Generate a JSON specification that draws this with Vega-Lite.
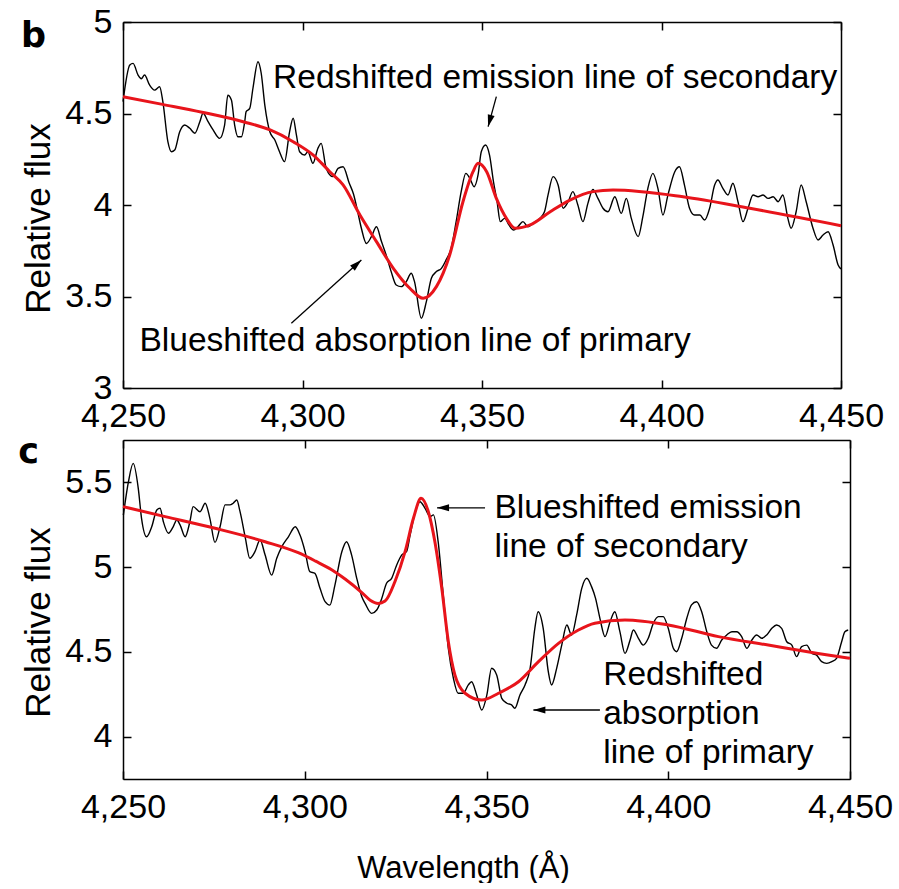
{
  "$schema": "https://vega.github.io/schema/vega-lite/v6.json",
  "background": "white",
  "padding": {"left": 18, "top": 5, "right": 4, "bottom": 0},
  "spacing": 52,
  "bounds": "flush",
  "config": {
    "font": "Liberation Sans",
    "view": {"stroke": null},
    "axis": {
      "grid": false,
      "domainColor": "black", "domainWidth": 1.5,
      "tickColor": "black", "tickWidth": 1.5, "tickSize": -8,
      "labelFont": "Liberation Sans", "labelFontSize": 34, "labelColor": "black",
      "labelPadding": 19, "labelFlush": false, "labelOverlap": false,
      "titleFont": "Liberation Sans", "titleFontWeight": "normal", "titleColor": "black"
    }
  },
  "datasets": {
    "b_obs": [
      {"w":4250,"f":4.565},{"w":4251.9,"f":4.765},{"w":4252.8,"f":4.774},{"w":4254.2,"f":4.71},{"w":4255.1,"f":4.69},{"w":4256,"f":4.71},{"w":4257.4,"f":4.656},{"w":4258.8,"f":4.628},{"w":4260.2,"f":4.646},{"w":4261.1,"f":4.565},{"w":4262.5,"f":4.346},{"w":4263.5,"f":4.291},{"w":4264.4,"f":4.30},{"w":4265.8,"f":4.40},{"w":4267.2,"f":4.437},{"w":4268.6,"f":4.419},{"w":4270,"f":4.392},{"w":4271.4,"f":4.455},{"w":4272.3,"f":4.501},{"w":4273.7,"f":4.455},{"w":4275.1,"f":4.41},{"w":4276.9,"f":4.364},{"w":4278.3,"f":4.437},{"w":4279.2,"f":4.60},{"w":4280.2,"f":4.574},{"w":4281.1,"f":4.437},{"w":4282,"f":4.373},{"w":4283,"f":4.373},{"w":4283.9,"f":4.455},{"w":4284.3,"f":4.51},{"w":4285.3,"f":4.528},{"w":4286.2,"f":4.638},{"w":4287.6,"f":4.783},{"w":4288.5,"f":4.72},{"w":4289.5,"f":4.546},{"w":4290.9,"f":4.40},{"w":4292.3,"f":4.355},{"w":4293.6,"f":4.291},{"w":4295,"f":4.237},{"w":4296.4,"f":4.40},{"w":4297.4,"f":4.474},{"w":4298.3,"f":4.383},{"w":4299.2,"f":4.291},{"w":4300.6,"f":4.273},{"w":4301.5,"f":4.291},{"w":4302.9,"f":4.228},{"w":4304.3,"f":4.31},{"w":4305.2,"f":4.337},{"w":4306.6,"f":4.20},{"w":4308.5,"f":4.155},{"w":4309.9,"f":4.20},{"w":4311.3,"f":4.209},{"w":4313,"f":4.12},{"w":4314.2,"f":4.06},{"w":4315.3,"f":3.97},{"w":4316.4,"f":3.873},{"w":4317.8,"f":3.79},{"w":4319.2,"f":3.827},{"w":4320.6,"f":3.881},{"w":4322,"f":3.80},{"w":4323.3,"f":3.727},{"w":4324.7,"f":3.636},{"w":4326.1,"f":3.563},{"w":4327.5,"f":3.554},{"w":4328.9,"f":3.581},{"w":4330.3,"f":3.627},{"w":4331.2,"f":3.581},{"w":4333.1,"f":3.381},{"w":4334.5,"f":3.472},{"w":4335.9,"f":3.60},{"w":4337.3,"f":3.636},{"w":4338.7,"f":3.654},{"w":4340,"f":3.70},{"w":4341.4,"f":3.763},{"w":4342.8,"f":3.909},{"w":4344.2,"f":4.073},{"w":4345.5,"f":4.173},{"w":4346.6,"f":4.146},{"w":4347.8,"f":4.10},{"w":4348.9,"f":4.164},{"w":4349.8,"f":4.291},{"w":4351,"f":4.328},{"w":4352.1,"f":4.273},{"w":4353.2,"f":4.127},{"w":4354.2,"f":4.018},{"w":4355.1,"f":3.909},{"w":4356.3,"f":3.927},{"w":4357.5,"f":3.891},{"w":4358.8,"f":3.863},{"w":4360,"f":3.881},{"w":4361.4,"f":3.909},{"w":4362.8,"f":3.881},{"w":4364.2,"f":3.90},{"w":4366.1,"f":3.927},{"w":4367.4,"f":3.963},{"w":4368.4,"f":4.055},{"w":4369.8,"f":4.155},{"w":4371.2,"f":4.109},{"w":4372.6,"f":3.982},{"w":4374,"f":4.018},{"w":4375.3,"f":4.073},{"w":4376.7,"f":4.0},{"w":4378.1,"f":3.909},{"w":4379.5,"f":4.009},{"w":4380.9,"f":4.085},{"w":4382.3,"f":4.036},{"w":4383.7,"f":3.982},{"w":4385.1,"f":3.963},{"w":4387,"f":4.045},{"w":4388.8,"f":3.954},{"w":4390.2,"f":4.036},{"w":4391.6,"f":3.927},{"w":4393.5,"f":3.827},{"w":4394.8,"f":3.936},{"w":4396.2,"f":4.091},{"w":4397.6,"f":4.173},{"w":4399,"f":4.091},{"w":4400.4,"f":3.945},{"w":4401.8,"f":4.055},{"w":4403.7,"f":4.182},{"w":4405,"f":4.209},{"w":4406.4,"f":4.109},{"w":4407.8,"f":3.982},{"w":4409.2,"f":3.945},{"w":4410.7,"f":3.945},{"w":4412,"f":3.918},{"w":4413.4,"f":3.982},{"w":4414.8,"f":4.109},{"w":4415.7,"f":4.137},{"w":4417.1,"f":4.091},{"w":4418.5,"f":4.055},{"w":4419.9,"f":4.119},{"w":4421.3,"f":4.018},{"w":4422.7,"f":3.909},{"w":4424.1,"f":3.982},{"w":4425.5,"f":4.055},{"w":4426.9,"f":4.045},{"w":4428.3,"f":4.055},{"w":4429.7,"f":4.036},{"w":4431.1,"f":4.045},{"w":4432.5,"f":4.018},{"w":4433.8,"f":4.055},{"w":4435.2,"f":3.927},{"w":4436.1,"f":3.873},{"w":4437.5,"f":3.963},{"w":4438.9,"f":4.109},{"w":4440.3,"f":4.018},{"w":4442.2,"f":3.873},{"w":4443.6,"f":3.809},{"w":4445,"f":3.836},{"w":4446.4,"f":3.854},{"w":4447.8,"f":3.781},{"w":4449.2,"f":3.672},{"w":4450,"f":3.65}
    ],
    "b_fit": [
      {"w":4250,"f":4.592},{"w":4261,"f":4.55},{"w":4272,"f":4.507},{"w":4283.5,"f":4.455},{"w":4291,"f":4.41},{"w":4297.4,"f":4.346},{"w":4303,"f":4.273},{"w":4307.6,"f":4.182},{"w":4311.3,"f":4.11},{"w":4316,"f":3.945},{"w":4320.6,"f":3.80},{"w":4325.3,"f":3.654},{"w":4329.9,"f":3.545},{"w":4333.6,"f":3.49},{"w":4337.3,"f":3.554},{"w":4341,"f":3.727},{"w":4344.7,"f":4.018},{"w":4347.5,"f":4.182},{"w":4348.9,"f":4.228},{"w":4351.3,"f":4.182},{"w":4354,"f":4.036},{"w":4356.8,"f":3.927},{"w":4359.2,"f":3.873},{"w":4363.4,"f":3.891},{"w":4369,"f":3.963},{"w":4374.5,"f":4.027},{"w":4380.9,"f":4.073},{"w":4386.5,"f":4.082},{"w":4406,"f":4.045},{"w":4424.6,"f":3.982},{"w":4450,"f":3.887}
    ],
    "c_obs": [
      {"w":4250.1,"f":5.307},{"w":4251.5,"f":5.504},{"w":4252.8,"f":5.612},{"w":4254.2,"f":5.465},{"w":4255.1,"f":5.288},{"w":4256.5,"f":5.179},{"w":4257.9,"f":5.238},{"w":4259.3,"f":5.337},{"w":4260.2,"f":5.347},{"w":4261.1,"f":5.268},{"w":4262.5,"f":5.20},{"w":4263.8,"f":5.238},{"w":4264.8,"f":5.278},{"w":4265.7,"f":5.249},{"w":4267.1,"f":5.179},{"w":4268.4,"f":5.268},{"w":4269.3,"f":5.357},{"w":4271.2,"f":5.327},{"w":4272.6,"f":5.377},{"w":4273.9,"f":5.288},{"w":4275.3,"f":5.146},{"w":4276.7,"f":5.238},{"w":4278.1,"f":5.367},{"w":4279.4,"f":5.367},{"w":4280.3,"f":5.377},{"w":4281.3,"f":5.396},{"w":4282.2,"f":5.327},{"w":4283.6,"f":5.179},{"w":4284.9,"f":5.052},{"w":4286.3,"f":5.091},{"w":4287.7,"f":5.16},{"w":4289.1,"f":5.071},{"w":4290.9,"f":4.953},{"w":4292.3,"f":5.052},{"w":4293.7,"f":5.121},{"w":4295.5,"f":5.179},{"w":4297.4,"f":5.238},{"w":4298.7,"f":5.189},{"w":4300.1,"f":5.091},{"w":4301.4,"f":4.973},{"w":4302.8,"f":4.963},{"w":4304.2,"f":4.875},{"w":4305.6,"f":4.796},{"w":4306.9,"f":4.776},{"w":4308.3,"f":4.894},{"w":4310.2,"f":5.091},{"w":4311.5,"f":5.15},{"w":4312.9,"f":5.071},{"w":4314.3,"f":4.934},{"w":4315.7,"f":4.825},{"w":4316.6,"f":4.786},{"w":4318.4,"f":4.727},{"w":4319.8,"f":4.747},{"w":4321.2,"f":4.816},{"w":4322.5,"f":4.905},{"w":4323.9,"f":4.934},{"w":4325.3,"f":5.013},{"w":4326.7,"f":5.072},{"w":4328,"f":5.091},{"w":4329,"f":5.19},{"w":4330.3,"f":5.318},{"w":4331.7,"f":5.386},{"w":4333.1,"f":5.347},{"w":4334.5,"f":5.298},{"w":4335.4,"f":5.308},{"w":4336.7,"f":5.15},{"w":4338.1,"f":4.835},{"w":4339.5,"f":4.521},{"w":4340.9,"f":4.344},{"w":4342.2,"f":4.256},{"w":4343.6,"f":4.256},{"w":4345,"f":4.305},{"w":4345.9,"f":4.324},{"w":4347.3,"f":4.246},{"w":4348.7,"f":4.157},{"w":4350.1,"f":4.246},{"w":4351.4,"f":4.403},{"w":4352.8,"f":4.364},{"w":4354.2,"f":4.226},{"w":4355.6,"f":4.197},{"w":4356.9,"f":4.187},{"w":4357.8,"f":4.167},{"w":4359.2,"f":4.246},{"w":4360.6,"f":4.305},{"w":4362,"f":4.403},{"w":4363.3,"f":4.639},{"w":4364.2,"f":4.737},{"w":4365.6,"f":4.639},{"w":4367,"f":4.383},{"w":4367.9,"f":4.305},{"w":4369.3,"f":4.403},{"w":4370.7,"f":4.54},{"w":4372.1,"f":4.659},{"w":4373.4,"f":4.6},{"w":4374.8,"f":4.718},{"w":4376.2,"f":4.875},{"w":4377.6,"f":4.934},{"w":4378.9,"f":4.885},{"w":4380,"f":4.816},{"w":4381.2,"f":4.698},{"w":4382.6,"f":4.59},{"w":4384,"f":4.678},{"w":4385.3,"f":4.737},{"w":4386.7,"f":4.619},{"w":4388.1,"f":4.491},{"w":4389.5,"f":4.57},{"w":4390.4,"f":4.629},{"w":4391.8,"f":4.58},{"w":4393.1,"f":4.54},{"w":4394.5,"f":4.58},{"w":4395.9,"f":4.669},{"w":4397.3,"f":4.708},{"w":4398.6,"f":4.708},{"w":4400,"f":4.639},{"w":4401.4,"f":4.521},{"w":4402.3,"f":4.501},{"w":4403.7,"f":4.58},{"w":4405.1,"f":4.698},{"w":4406.4,"f":4.777},{"w":4407.8,"f":4.796},{"w":4409.2,"f":4.737},{"w":4410.6,"f":4.619},{"w":4411.9,"f":4.54},{"w":4413.3,"f":4.521},{"w":4414.7,"f":4.57},{"w":4416.1,"f":4.60},{"w":4417.5,"f":4.619},{"w":4418.8,"f":4.619},{"w":4420.2,"f":4.59},{"w":4421.6,"f":4.521},{"w":4423,"f":4.57},{"w":4424.3,"f":4.60},{"w":4425.7,"f":4.58},{"w":4427.1,"f":4.60},{"w":4428.5,"f":4.639},{"w":4429.8,"f":4.659},{"w":4431.2,"f":4.639},{"w":4432.6,"f":4.56},{"w":4434,"f":4.54},{"w":4435.3,"f":4.472},{"w":4436.7,"f":4.531},{"w":4438.1,"f":4.54},{"w":4439.5,"f":4.491},{"w":4440.8,"f":4.481},{"w":4442.2,"f":4.442},{"w":4443.6,"f":4.432},{"w":4445,"f":4.442},{"w":4446.3,"f":4.462},{"w":4447.7,"f":4.56},{"w":4448.6,"f":4.619},{"w":4449.5,"f":4.629}
    ],
    "c_fit": [
      {"w":4250,"f":5.357},{"w":4261.6,"f":5.298},{"w":4275.3,"f":5.229},{"w":4289.1,"f":5.15},{"w":4298.2,"f":5.085},{"w":4303,"f":5.035},{"w":4307.4,"f":4.985},{"w":4311.1,"f":4.93},{"w":4315.7,"f":4.85},{"w":4318,"f":4.805},{"w":4320.2,"f":4.786},{"w":4322.1,"f":4.80},{"w":4324.8,"f":4.914},{"w":4327.6,"f":5.091},{"w":4329.9,"f":5.288},{"w":4332,"f":5.406},{"w":4334,"f":5.327},{"w":4335.8,"f":5.15},{"w":4337.7,"f":4.875},{"w":4339.5,"f":4.56},{"w":4341.3,"f":4.364},{"w":4344.1,"f":4.256},{"w":4348.7,"f":4.216},{"w":4353.3,"f":4.256},{"w":4358.8,"f":4.324},{"w":4364.3,"f":4.442},{"w":4369.8,"f":4.55},{"w":4375.3,"f":4.629},{"w":4379.8,"f":4.669},{"w":4388.1,"f":4.688},{"w":4400,"f":4.659},{"w":4413.8,"f":4.59},{"w":4427.5,"f":4.54},{"w":4441.2,"f":4.491},{"w":4450,"f":4.462}
    ],
    "b_notes": [
      {"label":"Redshifted emission line of secondary","w":4291.8,"f":4.639},
      {"label":"Blueshifted absorption line of primary","w":4254.6,"f":3.202}
    ],
    "c_notes": [
      {"label":"Blueshifted emission\nline of secondary","w":4352.2,"f":5.29},
      {"label":"Redshifted\nabsorption\nline of primary","w":4382.1,"f":4.305}
    ],
    "b_tag": [{"label":"b","w":4221.6,"f":4.863}],
    "c_tag": [{"label":"c","w":4221.2,"f":5.614}],
    "b_arrows": [
      {"w":4354.0,"f":4.592,"w2":4351.7,"f2":4.428},
      {"w":4296.9,"f":3.354,"w2":4316.4,"f2":3.699}
    ],
    "c_arrows": [
      {"w":4349.6,"f":5.35,"w2":4336.4,"f2":5.35},
      {"w":4381.2,"f":4.157,"w2":4362.9,"f2":4.157}
    ]
  },
  "vconcat": [
    {
      "width": 718,
      "height": 366,
      "resolve": {"axis": {"x": "independent", "y": "independent"}},
      "layer": [
        {
          "data": {"name": "b_obs"},
          "mark": {"type": "line", "color": "black", "strokeWidth": 1.4, "interpolate": "monotone"},
          "encoding": {
            "x": {"field": "w", "type": "quantitative", "scale": {"domain": [4250, 4450], "nice": false, "zero": false},
                  "axis": {"orient": "bottom", "values": [4250, 4300, 4350, 4400, 4450], "format": ",d", "title": null}},
            "y": {"field": "f", "type": "quantitative", "scale": {"domain": [3, 5], "nice": false, "zero": false},
                  "axis": {"orient": "left", "values": [3, 3.5, 4, 4.5, 5], "format": "~g", "title": "Relative flux", "titleFontSize": 35, "titleY": 196, "titlePadding": 8}}
          }
        },
        {
          "data": {"name": "b_fit"},
          "mark": {"type": "line", "color": "#e8141b", "strokeWidth": 3, "interpolate": "monotone"},
          "encoding": {
            "x": {"field": "w", "type": "quantitative", "scale": {"domain": [4250, 4450], "nice": false, "zero": false},
                  "axis": {"orient": "top", "values": [4250, 4300, 4350, 4400, 4450], "labels": false, "title": null}},
            "y": {"field": "f", "type": "quantitative", "scale": {"domain": [3, 5], "nice": false, "zero": false},
                  "axis": {"orient": "right", "values": [3, 3.5, 4, 4.5, 5], "labels": false, "title": null}}
          }
        },
        {
          "data": {"name": "b_arrows"},
          "mark": {"type": "rule", "color": "black", "strokeWidth": 1.3},
          "encoding": {
            "x": {"field": "w", "type": "quantitative", "scale": {"domain": [4250, 4450], "nice": false, "zero": false}, "axis": null},
            "y": {"field": "f", "type": "quantitative", "scale": {"domain": [3, 5], "nice": false, "zero": false}, "axis": null},
            "x2": {"field": "w2"},
            "y2": {"field": "f2"}
          }
        },
        {
          "data": {"name": "b_arrows"},
          "transform": [{"filter": "datum.f > 4"}],
          "mark": {"type": "point", "shape": "M0,0L-0.7,2.4L0.7,2.4Z", "filled": true, "color": "black", "opacity": 1, "size": 100, "angle": 195},
          "encoding": {
            "x": {"field": "w2", "type": "quantitative", "scale": {"domain": [4250, 4450], "nice": false, "zero": false}, "axis": null},
            "y": {"field": "f2", "type": "quantitative", "scale": {"domain": [3, 5], "nice": false, "zero": false}, "axis": null}
          }
        },
        {
          "data": {"name": "b_arrows"},
          "transform": [{"filter": "datum.f < 4"}],
          "mark": {"type": "point", "shape": "M0,0L-0.7,2.4L0.7,2.4Z", "filled": true, "color": "black", "opacity": 1, "size": 100, "angle": 48},
          "encoding": {
            "x": {"field": "w2", "type": "quantitative", "scale": {"domain": [4250, 4450], "nice": false, "zero": false}, "axis": null},
            "y": {"field": "f2", "type": "quantitative", "scale": {"domain": [3, 5], "nice": false, "zero": false}, "axis": null}
          }
        },
        {
          "data": {"name": "b_notes"},
          "mark": {"type": "text", "align": "left", "baseline": "alphabetic", "font": "Liberation Sans", "fontSize": 33.5, "color": "black", "lineBreak": "\n", "lineHeight": 39},
          "encoding": {
            "x": {"field": "w", "type": "quantitative", "scale": {"domain": [4250, 4450], "nice": false, "zero": false}, "axis": null},
            "y": {"field": "f", "type": "quantitative", "scale": {"domain": [3, 5], "nice": false, "zero": false}, "axis": null},
            "text": {"field": "label"}
          }
        },
        {
          "data": {"name": "b_tag"},
          "mark": {"type": "text", "align": "left", "baseline": "alphabetic", "font": "DejaVu Sans", "fontWeight": "bold", "fontSize": 35, "color": "black"},
          "encoding": {
            "x": {"field": "w", "type": "quantitative", "scale": {"domain": [4250, 4450], "nice": false, "zero": false}, "axis": null},
            "y": {"field": "f", "type": "quantitative", "scale": {"domain": [3, 5], "nice": false, "zero": false}, "axis": null},
            "text": {"field": "label"}
          }
        }
      ]
    },
    {
      "width": 727,
      "height": 339,
      "resolve": {"axis": {"x": "independent", "y": "independent"}},
      "layer": [
        {
          "data": {"name": "c_obs"},
          "mark": {"type": "line", "color": "black", "strokeWidth": 1.4, "interpolate": "monotone"},
          "encoding": {
            "x": {"field": "w", "type": "quantitative", "scale": {"domain": [4250, 4450], "nice": false, "zero": false},
                  "axis": {"orient": "bottom", "values": [4250, 4300, 4350, 4400, 4450], "format": ",d", "title": "Wavelength (Å)", "titleFontSize": 31, "titleX": 340, "titlePadding": 29}},
            "y": {"field": "f", "type": "quantitative", "scale": {"domain": [3.75, 5.75], "nice": false, "zero": false},
                  "axis": {"orient": "left", "values": [4, 4.5, 5, 5.5], "format": "~g", "title": "Relative flux", "titleFontSize": 35, "titleY": 182, "titlePadding": 8}}
          }
        },
        {
          "data": {"name": "c_fit"},
          "mark": {"type": "line", "color": "#e8141b", "strokeWidth": 3, "interpolate": "monotone"},
          "encoding": {
            "x": {"field": "w", "type": "quantitative", "scale": {"domain": [4250, 4450], "nice": false, "zero": false},
                  "axis": {"orient": "top", "values": [4250, 4300, 4350, 4400, 4450], "labels": false, "title": null}},
            "y": {"field": "f", "type": "quantitative", "scale": {"domain": [3.75, 5.75], "nice": false, "zero": false},
                  "axis": {"orient": "right", "values": [4, 4.5, 5, 5.5], "labels": false, "title": null}}
          }
        },
        {
          "data": {"name": "c_arrows"},
          "mark": {"type": "rule", "color": "black", "strokeWidth": 1.3},
          "encoding": {
            "x": {"field": "w", "type": "quantitative", "scale": {"domain": [4250, 4450], "nice": false, "zero": false}, "axis": null},
            "y": {"field": "f", "type": "quantitative", "scale": {"domain": [3.75, 5.75], "nice": false, "zero": false}, "axis": null},
            "x2": {"field": "w2"},
            "y2": {"field": "f2"}
          }
        },
        {
          "data": {"name": "c_arrows"},
          "mark": {"type": "point", "shape": "M0,0L-0.7,2.4L0.7,2.4Z", "filled": true, "color": "black", "opacity": 1, "size": 100, "angle": 270},
          "encoding": {
            "x": {"field": "w2", "type": "quantitative", "scale": {"domain": [4250, 4450], "nice": false, "zero": false}, "axis": null},
            "y": {"field": "f2", "type": "quantitative", "scale": {"domain": [3.75, 5.75], "nice": false, "zero": false}, "axis": null}
          }
        },
        {
          "data": {"name": "c_notes"},
          "mark": {"type": "text", "align": "left", "baseline": "alphabetic", "font": "Liberation Sans", "fontSize": 33.5, "color": "black", "lineBreak": "\n", "lineHeight": 39},
          "encoding": {
            "x": {"field": "w", "type": "quantitative", "scale": {"domain": [4250, 4450], "nice": false, "zero": false}, "axis": null},
            "y": {"field": "f", "type": "quantitative", "scale": {"domain": [3.75, 5.75], "nice": false, "zero": false}, "axis": null},
            "text": {"field": "label"}
          }
        },
        {
          "data": {"name": "c_tag"},
          "mark": {"type": "text", "align": "left", "baseline": "alphabetic", "font": "DejaVu Sans", "fontWeight": "bold", "fontSize": 35, "color": "black"},
          "encoding": {
            "x": {"field": "w", "type": "quantitative", "scale": {"domain": [4250, 4450], "nice": false, "zero": false}, "axis": null},
            "y": {"field": "f", "type": "quantitative", "scale": {"domain": [3.75, 5.75], "nice": false, "zero": false}, "axis": null},
            "text": {"field": "label"}
          }
        }
      ]
    }
  ]
}
